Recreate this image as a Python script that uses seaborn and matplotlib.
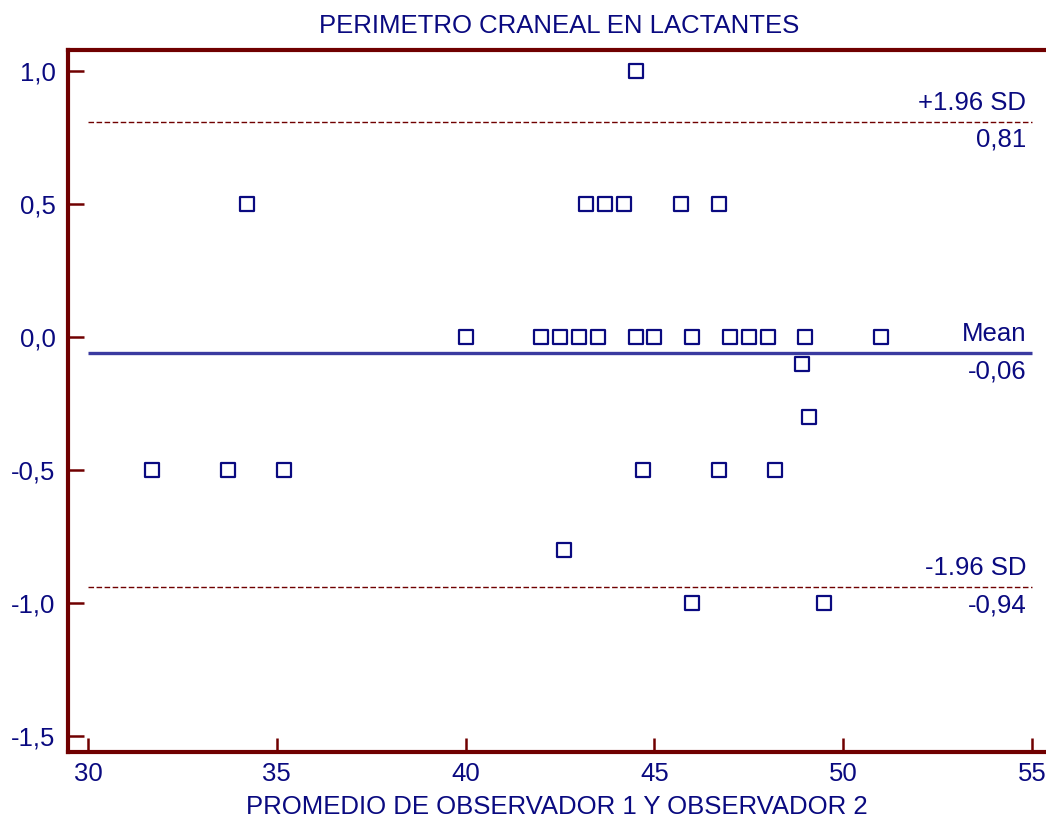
import matplotlib
matplotlib.use("Agg")
import matplotlib.pyplot as plt
import seaborn as sns
import pandas as pd

# Bland-Altman: mean of the two observers vs. difference between them
promedio = [44.5,
            34.2, 43.2, 43.7, 44.2, 45.7, 46.7,
            40.0, 42.0, 42.5, 43.0, 43.5, 44.5, 45.0, 46.0, 47.0, 47.5, 48.0, 49.0, 51.0,
            48.9, 49.1,
            31.7, 33.7, 35.2, 44.7, 46.7, 48.2,
            42.6,
            46.0, 49.5]
diferencia = [1.0,
              0.5, 0.5, 0.5, 0.5, 0.5, 0.5,
              0.0, 0.0, 0.0, 0.0, 0.0, 0.0, 0.0, 0.0, 0.0, 0.0, 0.0, 0.0, 0.0,
              -0.1, -0.3,
              -0.5, -0.5, -0.5, -0.5, -0.5, -0.5,
              -0.8,
              -1.0, -1.0]

media = -0.06
lim_sup = 0.81
lim_inf = -0.94

x_ticks = [30, 35, 40, 45, 50, 55]
y_ticks = [1.0, 0.5, 0.0, -0.5, -1.0, -1.5]
y_tick_labels = ["1,0", "0,5", "0,0", "-0,5", "-1,0", "-1,5"]

titulo = "PERIMETRO CRANEAL EN LACTANTES"
etiqueta_x = "PROMEDIO DE OBSERVADOR 1 Y OBSERVADOR 2"

NAVY = "#0a0a80"
MAROON = "#700000"
MEAN_BLUE = "#3a3aa0"

sns.set_style("white")
plt.rcParams["font.family"] = ["Liberation Sans", "DejaVu Sans"]

df = pd.DataFrame({"promedio": promedio, "diferencia": diferencia})

fig = plt.figure(figsize=(10.46, 8.22), dpi=100)
ax = fig.add_axes([68 / 1046, (822 - 752) / 822, 978 / 1046, (752 - 50) / 822])

sns.scatterplot(data=df, x="promedio", y="diferencia", ax=ax, marker="s", s=95,
                facecolor="white", edgecolor=NAVY, linewidth=1.6, zorder=3)

# mean and limits of agreement
ax.hlines(media, 30, 55, color=MEAN_BLUE, lw=2.4, zorder=2)
ax.hlines([lim_sup, lim_inf], 30, 55, color=MAROON, lw=1.0,
          linestyles=(0, (4, 1.8)), zorder=2)

fs = 18.5
tx = 54.85
for y, top, bottom in [(lim_sup, "+1.96 SD", "0,81"),
                       (media, "Mean", "-0,06"),
                       (lim_inf, "-1.96 SD", "-0,94")]:
    ax.annotate(top, (tx, y), xytext=(0, 5), textcoords="offset points",
                ha="right", va="bottom", color=NAVY, fontsize=fs)
    ax.annotate(bottom, (tx, y), xytext=(0, -4.5), textcoords="offset points",
                ha="right", va="top", color=NAVY, fontsize=fs)

ax.set_xlim(30 - 20 / 37.76, 30 + 958 / 37.76)
ax.set_ylim(-1.5 - 16 / 266, 1.0 + 21 / 266)
ax.set_xticks(x_ticks)
ax.set_yticks(y_ticks)
ax.set_yticklabels(y_tick_labels)

for side in ["left", "top", "bottom"]:
    ax.spines[side].set_color(MAROON)
    ax.spines[side].set_linewidth(3)
ax.spines["right"].set_visible(False)

ax.tick_params(axis="both", direction="in", colors=MAROON, width=1.8,
               labelcolor=NAVY, labelsize=fs, bottom=True, left=True)
ax.tick_params(axis="y", length=11.5, pad=9)
ax.tick_params(axis="x", length=10, pad=7)

ax.set_xlabel(etiqueta_x, color=NAVY, fontsize=fs, labelpad=7)
ax.set_ylabel("")
fig.text(559 / 1046, 1 - 26 / 822, titulo, color=NAVY, fontsize=fs,
         ha="center", va="center")

fig.savefig("out.png", dpi=100)
